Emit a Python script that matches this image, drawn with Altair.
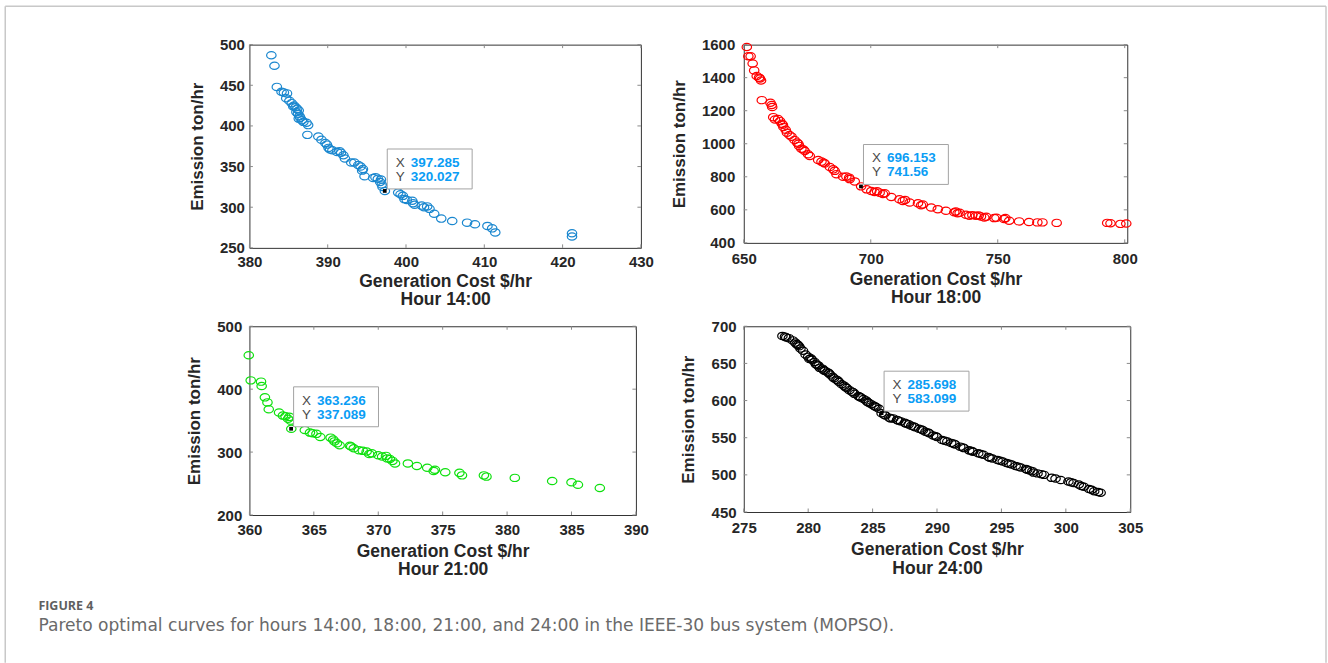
import altair as alt
import pandas as pd

# ---------------- data ----------------
h14_cost = [382.8, 383.2, 383.5, 384.1, 384.4, 384.8, 384.7, 385.1, 385.4, 385.7,
            385.9, 386.1, 386.3, 385.6, 386.0, 386.2, 386.4, 386.3, 386.5, 386.7,
            386.9, 387.3, 387.5, 387.4, 388.8, 389.2, 389.7, 389.9, 390.1, 390.3,
            390.6, 391.2, 391.5, 391.7, 392.0, 392.2, 393.0, 393.4, 393.9, 394.2,
            394.5, 394.4, 394.7, 395.8, 396.1, 396.4, 396.8, 396.7, 396.9, 397.0,
            397.3, 399.0, 399.3, 399.6, 399.8, 400.1, 400.8, 400.9, 401.1, 402.0,
            402.3, 402.7, 403.0, 403.6, 404.5, 405.9, 407.8, 408.8, 410.4, 411.0,
            411.4, 421.2, 421.2]
h14_emis = [487, 474, 448, 442, 441, 440, 434, 431, 428, 425,
            423, 421, 419, 424, 417, 415, 412, 409, 410, 407,
            405, 404, 401, 389, 387, 383, 379, 377, 373, 371,
            370, 368, 369, 367, 364, 360, 355, 355, 352, 350,
            347, 345, 338, 336, 337, 335, 334, 331, 328, 325,
            320, 318, 316, 314, 310, 309, 308, 305, 303, 302,
            300, 301, 298, 292, 286, 283, 281, 279, 277, 274,
            269, 268, 264]

h18_cost = [651.2, 651.8, 652.7, 653.5, 654.1, 655.1, 656.0, 656.4, 656.8, 657.1,
            660.5, 661.0, 661.2, 661.6, 662.3, 663.5, 664.3, 665.0, 665.4, 665.6,
            666.5, 667.0, 668.0, 668.8, 670.0, 671.0, 671.5, 671.8, 672.7, 673.5,
            674.0, 675.3, 676.0, 679.3, 680.6, 681.5, 681.9, 683.9, 685.2, 685.8,
            686.5, 689.1, 690.4, 691.5, 691.7, 693.7, 696.2, 698.4, 700.2, 701.5,
            702.5, 703.5, 704.8, 705.5, 708.1, 711.3, 712.6, 713.5, 715.3, 718.6,
            719.8, 720.5, 723.8, 726.4, 729.6, 732.9, 733.5, 734.2, 735.0, 737.5,
            738.8, 740.0, 741.4, 742.5, 743.4, 744.7, 745.5, 748.6, 749.5, 752.5,
            753.0, 754.5, 758.4, 762.3, 765.6, 767.6, 773.2, 793.1, 794.4, 798.3,
            800.6]
h18_emis = [1586, 1530, 1530, 1486, 1444, 1410, 1400, 1395, 1383, 1264,
            1248, 1235, 1222, 1161, 1147, 1150, 1137, 1121, 1115, 1101,
            1085, 1067, 1053, 1043, 1023, 1007, 1000, 987, 970, 965,
            956, 936, 926, 902, 892, 885, 880, 859, 845, 836,
            816, 800, 802, 795, 786, 772, 742, 724, 714, 708,
            712, 704, 696, 700, 678, 664, 654, 660, 644, 640,
            628, 632, 614, 604, 594, 585, 590, 579, 582, 570,
            564, 568, 564, 566, 560, 554, 558, 550, 552, 544,
            550, 534, 530, 526, 524, 524, 521, 521, 519, 515,
            517]

h21_cost = [359.95, 360.1, 360.9, 360.95, 361.2, 361.4, 361.5, 362.3, 362.6, 362.8,
            363.1, 363.0, 363.2, 363.25, 364.3, 364.7, 364.9, 365.2, 365.5, 366.3,
            366.5, 366.6, 366.8, 367.0, 367.8, 367.9, 368.1, 368.5, 368.8, 369.1,
            369.3, 369.5, 370.0, 370.3, 370.6, 370.7, 370.9, 371.1, 371.3, 372.3,
            373.0, 373.8, 374.3, 374.4, 375.2, 376.3, 376.5, 378.2, 378.4, 380.6,
            383.5, 385.0, 385.5, 387.2]
h21_emis = [454, 414, 412, 405, 387, 379, 368, 363, 358, 357,
            356, 353, 350, 337, 335, 331, 330, 329, 324, 323,
            320, 317, 314, 311, 310, 309, 306, 303, 302, 301,
            297, 298, 295, 293, 294, 290, 289, 286, 282, 282,
            278, 275, 270, 272, 268, 267, 263, 263, 261, 259,
            254, 252, 248, 243]

h24_cost = [278.0, 278.2, 278.5, 278.8, 279.0, 279.1, 279.3, 279.4, 279.6, 279.8,
            280.0, 280.1, 280.3, 280.5, 280.6, 280.8, 280.9, 281.1, 281.3, 281.5,
            281.7, 281.9, 282.0, 282.2, 282.4, 282.6, 282.8, 283.0, 283.2, 283.4,
            283.6, 283.9, 284.1, 284.3, 284.5, 284.7, 284.9, 285.1, 285.3, 285.5,
            285.7, 286.0, 286.3, 286.6, 286.9, 287.2, 287.5, 287.8, 288.0, 288.3,
            288.6, 288.9, 289.1, 289.4, 289.7, 290.0, 290.4, 290.8, 291.1, 291.4,
            291.8, 292.1, 292.5, 292.8, 293.2, 293.6, 294.0, 294.3, 294.7, 295.1,
            295.4, 295.8, 296.1, 296.5, 296.9, 297.2, 297.5, 297.8, 298.3, 298.9,
            299.6, 300.2, 300.6, 301.0, 301.4, 301.8, 302.2, 302.7,
            278.3, 279.2, 280.2, 280.7, 281.2, 281.6, 282.3, 282.9, 283.5, 284.0,
            284.6, 285.2, 285.9, 286.4, 287.0, 287.6, 288.2, 288.8, 289.3, 289.9,
            290.6, 291.3, 292.0, 292.7, 293.4, 294.1, 294.9, 295.6, 296.3, 297.0,
            297.4, 298.1, 299.2, 300.4, 301.2, 302.0, 302.5]
h24_emis = [687, 686, 684, 681, 678, 676, 673, 670, 667, 662,
            659, 656, 655, 652, 649, 647, 644, 643, 640, 638,
            635, 632, 630, 628, 625, 622, 620, 617, 614, 612,
            609, 606, 604, 602, 600, 597, 595, 593, 591, 589,
            583, 580, 577, 576, 574, 572, 570, 568, 566, 564,
            562, 560, 558, 556, 553, 551, 547, 545, 543, 541,
            538, 536, 533, 531, 529, 527, 524, 522, 520, 518,
            516, 514, 512, 510, 508, 506, 503, 502, 500, 496,
            493, 491, 489, 487, 484, 481, 478, 476,
            685, 675, 657, 648, 641, 637, 627, 618, 611, 605,
            598, 592, 581, 576, 573, 569, 565, 561, 557, 552,
            546, 542, 537, 532, 528, 523, 519, 515, 511, 507,
            505, 501, 495, 490, 485, 480, 477]

tip_cost = [397.285, 696.153, 363.236, 285.698]
tip_emis = [320.027, 741.56, 337.089, 583.099]

x_ticks = [[380, 390, 400, 410, 420, 430],
           [650, 700, 750, 800],
           [360, 365, 370, 375, 380, 385, 390],
           [275, 280, 285, 290, 295, 300, 305]]
y_ticks = [[250, 300, 350, 400, 450, 500],
           [400, 600, 800, 1000, 1200, 1400, 1600],
           [200, 300, 400, 500],
           [450, 500, 550, 600, 650, 700]]
x_domains = [[380, 430], [650, 801], [360, 390], [275, 305]]
y_domains = [[250, 500], [400, 1600], [200, 500], [450, 700]]

hours = ["Hour 14:00", "Hour 18:00", "Hour 21:00", "Hour 24:00"]
colors = ["#1a87cf", "#ff0000", "#0ee00e", "#000000"]
x_title = "Generation Cost $/hr"
y_title = "Emission ton/hr"
fig_label = "FIGURE 4"
caption = ("Pareto optimal curves for hours 14:00, 18:00, 21:00, and 24:00 "
           "in the IEEE-30 bus system (MOPSO).")

# ---------------- style ----------------
AXF = "Liberation Sans"
FRAME = "#333333"
TICK = "#8a8a8a"
TXT = "#262626"
ELLIPSE = ("M-1.3,0C-1.3,-0.5523,-0.718,-1,0,-1C0.718,-1,1.3,-0.5523,1.3,0"
           "C1.3,0.5523,0.718,1,0,1C-0.718,1,-1.3,0.5523,-1.3,0Z")
BOX = "M-1,-0.47L1,-0.47L1,0.47L-1,0.47Z"


def panel(i, cost, emis, W, H, ylpad, ytpad, xlpad, xtpad, xlh, extra=()):
    xs = alt.Scale(domain=x_domains[i], nice=False, zero=False)
    ys = alt.Scale(domain=y_domains[i], nice=False, zero=False)
    xax = alt.Axis(values=x_ticks[i], format="d", title=[x_title, hours[i]],
                   grid=False, domain=False, ticks=False, tickSize=0,
                   labelFlush=False, labelOverlap=False, labelFont=AXF,
                   labelFontWeight="bold", labelFontSize=15, labelColor=TXT,
                   labelPadding=xlpad, minExtent=20, maxExtent=20,
                   titleFont=AXF, titleFontWeight="bold", titleFontSize=17.5,
                   titleColor=TXT, titlePadding=xtpad, titleLineHeight=xlh)
    yax = alt.Axis(values=y_ticks[i], format="d", title=y_title,
                   grid=False, domain=False, ticks=False, tickSize=0,
                   labelFlush=False, labelOverlap=False, labelFont=AXF,
                   labelFontWeight="bold", labelFontSize=15, labelColor=TXT,
                   labelPadding=ylpad, minExtent=30, maxExtent=30,
                   titleFont=AXF, titleFontWeight="bold",
                   titleFontSize=17, titleColor=TXT, titlePadding=ytpad)
    df = pd.DataFrame({"cost": cost, "emis": emis})
    X = alt.X("cost:Q", scale=xs, axis=xax)
    Y = alt.Y("emis:Q", scale=ys, axis=yax)
    pts = alt.Chart(df).mark_point(shape=ELLIPSE, size=53, filled=False,
                                   color=colors[i], strokeWidth=1.2,
                                   opacity=1).encode(x=X, y=Y)

    xtdf = pd.DataFrame({"cost": x_ticks[i]})
    ytdf = pd.DataFrame({"emis": y_ticks[i]})
    tick_style = dict(color=TICK, strokeWidth=1)
    tb = alt.Chart(xtdf).mark_rule(**tick_style).encode(
        x=X, y=alt.value(H), y2=alt.value(H - 3.5))
    tt = alt.Chart(xtdf).mark_rule(**tick_style).encode(
        x=X, y=alt.value(0), y2=alt.value(3.5))
    tl = alt.Chart(ytdf).mark_rule(**tick_style).encode(
        y=Y, x=alt.value(0), x2=alt.value(3.5))
    tr = alt.Chart(ytdf).mark_rule(**tick_style).encode(
        y=Y, x=alt.value(W - 3.5), x2=alt.value(W))

    tdf = pd.DataFrame({"cost": [tip_cost[i]], "emis": [tip_emis[i]],
                        "xl": [str(tip_cost[i])], "yl": [str(tip_emis[i])],
                        "X": ["X"], "Y": ["Y"]})
    enc = dict(x=X, y=Y)
    box = alt.Chart(tdf).mark_point(shape=BOX, size=7225, filled=True,
                                    fill="#ffffff", stroke="#a3a3a3",
                                    strokeWidth=1, opacity=1,
                                    xOffset=45, yOffset=-22).encode(**enc)
    dot = alt.Chart(tdf).mark_point(shape="square", size=14, filled=True,
                                    color="#000000", opacity=1).encode(**enc)
    lab = dict(align="left", baseline="middle", font=AXF, fontSize=13.5)
    tx = alt.Chart(tdf).mark_text(dx=11, dy=-28, color="#4a4a4a", **lab).encode(text="X:N", **enc)
    ty = alt.Chart(tdf).mark_text(dx=11, dy=-14, color="#4a4a4a", **lab).encode(text="Y:N", **enc)
    vx = alt.Chart(tdf).mark_text(dx=26, dy=-28, color="#0a9df5", fontWeight="bold", **lab).encode(text="xl:N", **enc)
    vy = alt.Chart(tdf).mark_text(dx=26, dy=-14, color="#0a9df5", fontWeight="bold", **lab).encode(text="yl:N", **enc)

    return alt.layer(pts, tb, tt, tl, tr, box, dot, tx, ty, vx, vy, *extra).properties(
        width=W, height=H)


# page frame (light grey border of the figure block) and caption,
# positioned relative to the first panel
fdf = pd.DataFrame({"a": [fig_label], "b": [caption]})
bstyle = dict(color="#c8c8c8", strokeWidth=1.5)
b_top = alt.Chart(fdf).mark_rule(**bstyle).encode(
    x=alt.value(-244.5), x2=alt.value(1078), y=alt.value(-38.5))
b_left = alt.Chart(fdf).mark_rule(**bstyle).encode(
    x=alt.value(-244.5), y=alt.value(-38.5), y2=alt.value(619))
b_right = alt.Chart(fdf).mark_rule(**bstyle).encode(
    x=alt.value(1078), y=alt.value(-38.5), y2=alt.value(619))
c1 = alt.Chart(fdf).mark_text(align="left", baseline="alphabetic", font="Open Sans",
                              fontSize=12.5, fontWeight="bold", color="#5f5f5f").encode(
    x=alt.value(-211.3), y=alt.value(566.5), text="a:N")
c2 = alt.Chart(fdf).mark_text(align="left", baseline="alphabetic", font="DejaVu Sans",
                              fontSize=17.1, color="#6a6a6a").encode(
    x=alt.value(-211.3), y=alt.value(587), text="b:N")

p1 = panel(0, h14_cost, h14_emis, 392, 203.5, 5, 13, 6.5, 4.8, 18,
           extra=(b_top, b_left, b_right, c1, c2))
p2 = panel(1, h18_cost, h18_emis, 384, 198.5, 9, 25.5, 9, 7.5, 18)
p3 = panel(2, h21_cost, h21_emis, 387, 189, 7.7, 15.6, 8, 7.9, 18)
p4 = panel(3, h24_cost, h24_emis, 387, 186, 7.7, 16, 9, 9, 18.5)

chart = alt.concat(p1, p2, p3, p4, columns=2,
                   spacing={"row": 78, "column": 103},
                   bounds="flush").properties(
    padding={"left": 3.75, "top": 4.25, "right": 0, "bottom": 0},
    background="#ffffff",
).configure_view(stroke=FRAME, strokeWidth=1)

chart.save("out.html", embed_options={"renderer": "svg", "actions": False})
